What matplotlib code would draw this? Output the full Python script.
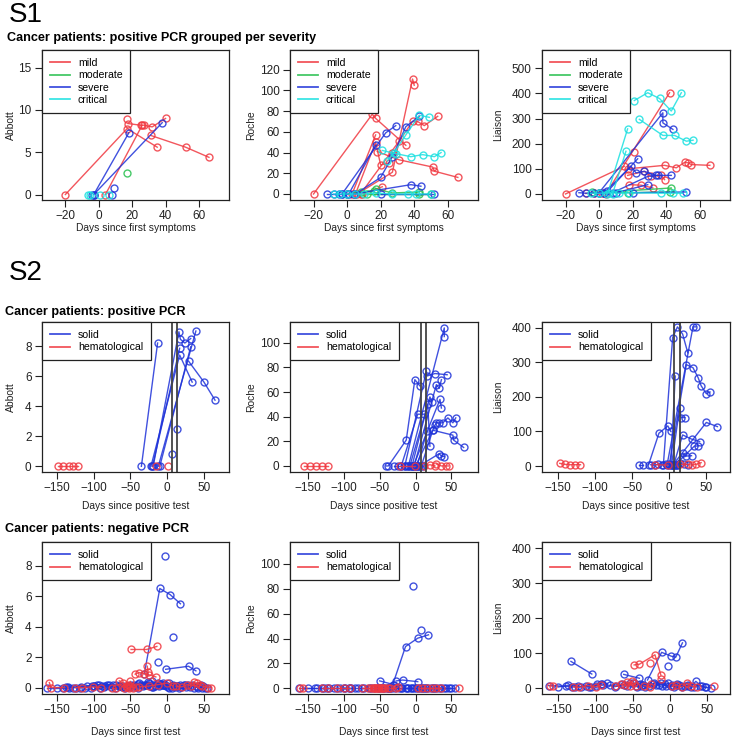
import matplotlib.pyplot as plt
from matplotlib.lines import Line2D

plt.rcParams['font.family'] = ['Liberation Sans', 'DejaVu Sans']

# ---- data: each group is a list of patient trajectories (days, value) ----
SEVERITY = ['mild', 'moderate', 'severe', 'critical']
CANCER = ['solid', 'hematological']

S1_ABBOTT_MILD = [([-20, 17, 35], [0, 7.8, 5.6]), ([4, 26], [0, 8.2]),
                  ([17.5, 25, 27, 32, 40], [8.4, 8.2, 8.2, 8.0, 9.0]),
                  ([17], [8.9]), ([31, 52, 66], [7.0, 5.6, 4.4])]
S1_ABBOTT_MODERATE = [([17], [2.5])]
S1_ABBOTT_SEVERE = [([-3, 18], [0, 7.3]), ([-3, 38], [0, 8.5]), ([-4], [0]),
                    ([8], [0]), ([9], [0.8])]
S1_ABBOTT_CRITICAL = [([-6.5, -5.5], [0, 0]), ([0.5], [0]), ([6], [0])]

S1_ROCHE_MILD = [([-20, 15, 17, 35], [0, 77, 73, 47]), ([3, 17], [0, 57]),
                 ([5, 17, 20, 25, 27], [0, 50, 28, 30, 40]),
                 ([18, 31, 51, 52, 66], [41, 33, 26, 22, 16]),
                 ([6, 27, 39, 40], [0, 21, 111, 105]),
                 ([8, 31, 39, 42, 46, 54], [0, 51, 70, 70, 66, 75]),
                 ([9, 21], [0, 7])]
S1_ROCHE_MODERATE = [([0, 8, 16, 17, 27, 43], [0, 2, 3, 5, 1, 2]),
                     ([12, 43, 50], [0, 0, 0])]
S1_ROCHE_SEVERE = [([-12, -8, -5, -3, 0], [0, 0, 0, 0, 0]), ([-3, 23, 29], [0, 59, 66]),
                   ([1, 17], [0, 47]), ([5, 20, 27, 35, 43], [0, 16, 36, 65, 75]),
                   ([4, 38, 44], [0, 9, 7.5]), ([20, 52], [0, 0])]
S1_ROCHE_CRITICAL = [([21, 29, 38, 45, 52, 56], [42, 39, 36, 38, 36, 40]),
                     ([24, 28, 35, 43, 49], [32, 40, 57, 76, 74]),
                     ([-8, -4, 0, 5, 10, 17, 27, 36, 41, 50], [0, 0, 0, 0, 0, 1, 0, 0, 0, 0])]

S1_LIAISON_MILD = [([-20, 15], [0, 110]), ([4, 42], [0, 403]), ([21], [166]),
                   ([17, 39, 46, 51, 53, 55, 66], [100, 114, 104, 126, 124, 117, 114]),
                   ([17, 27, 31, 37, 39], [74, 90, 70, 74, 57]),
                   ([18, 25, 32], [37, 35, 24]), ([-8, -3, 2], [2, 3, 4])]
S1_LIAISON_MODERATE = [([0, 43], [5, 24]), ([-4, 17, 42], [8, 5, 8])]
S1_LIAISON_SEVERE = [([0, 38, 38, 44], [5, 323, 283, 257]), ([-12, -8, -3, 3], [5, 3, 5, 5]),
                     ([3, 19, 22, 27, 34, 43], [5, 110, 84, 90, 74, 74]),
                     ([5, 23], [10, 140]), ([8, 29, 35], [5, 70, 74]),
                     ([10, 29], [5, 37]), ([20, 52], [5, 8])]
S1_LIAISON_CRITICAL = [([21, 29, 36, 43, 49], [372, 403, 380, 330, 403]),
                       ([24, 38, 45, 52, 56], [297, 233, 233, 210, 214]),
                       ([5, 17], [0, 259]), ([8, 16], [0, 170]),
                       ([-5, 0, 6, 12, 18, 37, 44, 50], [3, 3, 5, 3, 5, 3, 3, 3])]

POS_LINES = [7, 14]

S2_POS_ABBOTT_SOLID = [([-35, -13], [0, 8.2]), ([-22, 17, 34], [0, 7.4, 5.6]),
                       ([-19, 16, 18, 24, 32], [0, 8.95, 8.45, 8.2, 8.5]),
                       ([-12, 39], [0, 9.0]), ([-10, 32], [0, 7.95]), ([-20, 17], [0, 7.85]),
                       ([29, 50, 65], [7.0, 5.6, 4.4]), ([7], [0.8]), ([13], [2.5])]
S2_POS_ABBOTT_HEMA = [([-148, -141, -134, -128, -121], [0, 0, 0, 0, 0]), ([-15], [0]), ([0.5], [0])]

S2_POS_ROCHE_SOLID = [([-30, -25, -20, -15, -10, -5, 0, 5, 10], [0, 0, 0, 0, 0, 0, 0, 0, 0]),
                      ([-41, -38, -13, -1, 6], [0, 0, 21, 70, 65]),
                      ([-20, 3, 12], [0, 42, 42]),
                      ([-15, 15, 16, 27, 44], [0, 77, 73, 75, 74]),
                      ([-10, 40, 40], [0, 112, 105]), ([-8, 20, 23], [0, 56, 52]),
                      ([-5, 17, 20], [0, 50, 16]), ([-3, 34, 36], [0, 54, 47]),
                      ([-2, 29, 33, 36], [0, 66, 63, 70]),
                      ([0, 24, 27, 29, 33, 38, 45, 52, 56], [0, 29, 33, 35, 35, 35, 39, 35, 39]),
                      ([2, 16], [0, 28]), ([5, 33, 36, 40], [0, 10, 8, 7.6]),
                      ([8, 24, 52, 53, 67], [0, 29, 25, 21, 15])]
S2_POS_ROCHE_HEMA = [([-155, -147, -139, -130, -122], [0, 0, 0, 0, 0]), ([-22, -1], [0, 0]),
                     ([12, 20, 27], [0, 1, 0]), ([29, 36, 42, 46], [1.6, 0, 0, 0])]

S2_POS_LIAISON_SOLID = [([-41, -36], [4, 4]),
                        ([-25, -20, -15, -10, -5, 0, 5, 10, 15, 20, 25], [4, 3, 5, 4, 6, 5, 3, 4, 8, 5, 4]),
                        ([-28, -14, -2, 2], [4, 95, 116, 100]),
                        ([-8, 4.5, 11, 18, 25], [4, 371, 402, 381, 327]),
                        ([-3, 32, 36], [4, 402, 402]),
                        ([0, 23, 32, 39, 43, 50, 55], [4, 293, 284, 255, 232, 209, 214]),
                        ([2, 8], [4, 260]), ([3, 14, 16, 21], [4, 168, 140, 140]),
                        ([5, 50, 65], [4, 126, 114]), ([6, 18, 30, 41], [4, 90, 78, 71]),
                        ([8, 34, 39], [4, 58, 58]), ([10, 18, 23, 30], [4, 37, 29, 30])]
S2_POS_LIAISON_HEMA = [([-148, -141, -134, -127, -120], [8, 5, 4, 4, 4]), ([-20, -2], [4, 3]),
                       ([14, 25, 30, 36, 43], [5, 5, 3, 5, 10])]

S2_NEG_ABBOTT_SOLID = [([-163, -141, -133], [0, 0, 0]),
                       ([-128, -117, -104, -95, -84], [0, 0.05, 0, 0.2, 0.1]),
                       ([-150, -137, -124, -109, -93], [0, 0.05, 0, 0.1, 0.2]),
                       ([-135, -119, -102, -86, -69, -55], [0.05, 0, 0.1, 0.05, 0.15, 0.1]),
                       ([-112, -99, -76, -57], [0, 0.1, 0.05, 0]),
                       ([-100, -91, -74, -62, -53, -39, -23], [0.1, 0, 0.2, 0.05, 0.1, 0.25, 0.1]),
                       ([-88, -79, -71, -60, -52, -45], [0.1, 0.2, 0, 0.1, 0.05, 0.15]),
                       ([-82, -64, -47, -35, -26, -16, -7, 2, 11], [0.2, 0.1, 0.05, 0.2, 0.35, 0.1, 0.15, 0.3, 0.05]),
                       ([-66, -49, -38, -29, -21, -13, -4], [0.1, 0.2, 0.3, 0.2, 0.4, 0.3, 0.2]),
                       ([-42, -31, -24, -17, -9, -1, 8, 15], [0.1, 0.2, 0.3, 0.15, 0.25, 0.1, 0.2, 0.1]),
                       ([-40, -33, -27, -19, -12, -5, 3, 10, 17, 25, 34, 42, 49], [0, 0.1, 0.2, 0.05, 0.15, 0.3, 0, 0.1, 0.2, 0.05, 0.15, 0, 0.1]),
                       ([-20, -11, -3, 6, 14, 23, 31, 40, 47], [0.05, 0.1, 0.2, 0, 0.1, 0.15, 0.05, 0.1, 0]),
                       ([-6, 1, 9, 16, 24, 33, 41, 46, 54], [0.2, 0.05, 0.1, 0, 0.2, 0.1, 0.05, 0.15, 0]),
                       ([5, 19, 28, 37, 44, 52], [0.1, 0.05, 0.2, 0, 0.1, 0]),
                       ([-31, -10, 4, 18], [0.9, 6.5, 6.1, 5.5]), ([-3.6], [8.6]), ([8], [3.3]),
                       ([-13], [1.7]), ([-2, 29, 39], [1.2, 1.4, 1.1])]
S2_NEG_ABBOTT_HEMA = [([-160, -158, -140], [0.33, 0, 0]), ([-125, -115, -101, -90], [0, 0, 0.05, 0]),
                      ([-75, -70], [0, 0]), ([-65, -60, -56, -53, -50], [0.44, 0.3, 0.1, 0.2, 0.4]),
                      ([-58, -55, -52, -49, -46, -43], [0, 0.05, 0, 0.1, 0, 0.05]),
                      ([-38, -25, -12, 0, 8], [0.05, 0.1, 0.2, 0.3, 0.1]),
                      ([12, 20, 27, 33, 40, 45], [0.1, 0.05, 0.2, 0.1, 0.3, 0.2]),
                      ([36, 48, 55, 60], [0.35, 0.1, 0, 0]),
                      ([-49, -28, -14], [2.5, 2.5, 2.7]), ([-27, -26], [1.4, 1.0]),
                      ([-43.5, -38, -31, -24.5, -15.4], [0.88, 0.99, 0.92, 0.84, 0.7])]

S2_NEG_ROCHE_SOLID = [([-163, -140, -131, -127], [0, 0, 0, 0]),
                      ([-150, -137, -124, -109, -93], [0, 0, 0, 0, 0]),
                      ([-120, -113, -106, -98, -90, -84], [0, 0, 0, 0, 0, 0]),
                      ([-100, -91, -74, -62, -53, -39, -23], [0, 0, 0, 0, 0, 0, 0]),
                      ([-80, -72, -65, -58, -50, -44, -37], [0, 0, 0, 0, 0, 0, 0]),
                      ([-45, -36, -28, -21, -14, -7, 1, 9], [0, 0, 0, 0, 0, 0, 0, 0]),
                      ([-40, -33, -19, -12, -5, 3, 10, 17, 25], [0, 0, 0, 0, 0, 0, 0, 0, 0]),
                      ([-10, -2, 6, 13, 21, 28, 35, 43, 49], [0, 0, 0, 0, 0, 0, 0, 0, 0]),
                      ([15, 24, 32, 40, 47, 55], [0, 0, 0, 0, 0, 0]),
                      ([-32, -14, 3, 18], [2.7, 33.6, 40.3, 43]), ([-3], [82]), ([8], [47]),
                      ([-50, -30], [6, 3]), ([-27, -18, 3], [6, 6.7, 5.4])]
S2_NEG_ROCHE_HEMA = [([-161, -157], [0, 0]), ([-130, -122, -110, -100, -92], [0, 0, 0, 0, 0]),
                     ([-74, -66, -60, -57, -54, -51, -48, -45], [0, 0, 0, 0, 0, 0, 0, 0]),
                     ([-62, -56, -52, -47, -42, -38], [0, 0, 0, 0, 0, 0]),
                     ([-35, -27, -25], [0, 0, 1]), ([3, 9, 16, 23, 29, 36], [0, 0, 0, 0, 0, 0]),
                     ([60], [0])]

S2_NEG_LIAISON_SOLID = [([-163, -140, -131, -127], [8, 6, 4, 5]),
                        ([-150, -137, -124, -109, -93], [4, 9, 6, 5, 13]),
                        ([-120, -113, -106, -98, -90, -84], [5, 8, 3, 12, 9, 14]),
                        ([-100, -91, -74, -62, -53, -39, -23], [7, 13, 5, 11, 16, 8, 12]),
                        ([-80, -72, -65, -58, -50, -44, -37], [10, 6, 12, 8, 14, 5, 9]),
                        ([-45, -36, -28, -21, -14, -7, 1, 9], [6, 11, 8, 14, 10, 12, 6, 9]),
                        ([-40, -33, -19, -12, -5, 3, 10, 17, 25], [12, 5, 9, 16, 7, 11, 13, 4, 8]),
                        ([-10, -2, 6, 13, 21, 28, 35, 43, 49], [8, 14, 5, 10, 7, 4, 20, 6, 3]),
                        ([15, 24, 32, 40, 47, 55], [6, 9, 4, 8, 3, 2]),
                        ([-133, -105], [77, 41]), ([-62, -41], [40, 29]),
                        ([-30, -11, 2, 8, 17], [24, 103, 92, 89, 130]), ([-3], [65])]
S2_NEG_LIAISON_HEMA = [([-161, -157], [8, 6]), ([-130, -122, -110, -100, -92], [5, 3, 8, 4, 10]),
                       ([-74, -66, -60, -57, -54, -51, -48, -45], [6, 12, 9, 18, 8, 20, 14, 7]),
                       ([-35, -27, -25], [8, 5, 12]), ([3, 9, 16, 23, 29, 36], [6, 10, 4, 15, 7, 5]),
                       ([60], [6]), ([-48, -41, -20, -12], [67, 69, 96, 38]), ([-27], [72]),
                       ([-12], [28])]

COLORS = {'mild': (0.94, 0.22, 0.25, 0.85), 'moderate': (0.15, 0.75, 0.3, 0.85),
          'severe': (0.12, 0.2, 0.85, 0.85), 'critical': (0.1, 0.88, 0.88, 0.85),
          'solid': (0.12, 0.2, 0.85, 0.85), 'hematological': (0.94, 0.22, 0.25, 0.85)}

W, H = 733, 740
fig = plt.figure(figsize=(W / 100, H / 100), dpi=100)


def px_axes(x0, y0, x1, y1):
    return fig.add_axes([x0 / W, 1 - y1 / H, (x1 - x0) / W, (y1 - y0) / H])


def panel(box, groups, names, xlim, ylim, xticks, yticks, ylab, ylab_x, xlab, xlab_off,
          vlines=None):
    ax = px_axes(*box)
    for name, trajs in zip(names, groups):
        for xs, ys in trajs:
            ax.plot(xs, ys, '-o', color=COLORS[name], lw=1, ms=5, mfc='none', mew=1)
    if vlines:
        for v in vlines:
            ax.axvline(v, color='#444444', lw=1.3)
    ax.set_xlim(xlim)
    ax.set_ylim(ylim)
    ax.set_xticks(xticks)
    ax.set_yticks(yticks)
    ax.tick_params(direction='out', length=5, width=0.8, labelsize=8.5, pad=2.5,
                   colors='#222222')
    for s in ax.spines.values():
        s.set_linewidth(0.9)
        s.set_color('#222222')
    handles = [Line2D([0], [0], color=COLORS[n], lw=1.3) for n in names]
    leg = ax.legend(handles, names, loc='upper left', bbox_to_anchor=(0, 1),
                    borderaxespad=0, fancybox=False, edgecolor='#222222', framealpha=1,
                    fontsize=7.6, handlelength=1.9, handletextpad=0.75,
                    labelspacing=0.22, borderpad=0.75)
    leg.get_frame().set_linewidth(0.9)
    # axis titles placed at measured pixel offsets
    ax.text((ylab_x - box[0]) / (box[2] - box[0]), 0.5, ylab, transform=ax.transAxes,
            rotation=90, ha='center', va='center', fontsize=7.4, color='#222222')
    ax.text(0.5, -xlab_off / (box[3] - box[1]), xlab, transform=ax.transAxes,
            ha='center', va='center', fontsize=7.4, color='#222222')
    return ax


COLS = [(42, 229), (290, 478), (542, 730)]
YLAB_X = [11, 251, 498]

# S1 row
r1 = (50, 200)
x1 = [-20, 0, 20, 40, 60]
panel((COLS[0][0], r1[0], COLS[0][1], r1[1]),
      [S1_ABBOTT_MILD, S1_ABBOTT_MODERATE, S1_ABBOTT_SEVERE, S1_ABBOTT_CRITICAL],
      SEVERITY, (-34, 78), (-0.65, 17.1), x1, [0, 5, 10, 15], 'Abbott', YLAB_X[0],
      'Days since first symptoms', 28)
panel((COLS[1][0], r1[0], COLS[1][1], r1[1]),
      [S1_ROCHE_MILD, S1_ROCHE_MODERATE, S1_ROCHE_SEVERE, S1_ROCHE_CRITICAL],
      SEVERITY, (-34, 78), (-5.8, 139), x1, [0, 20, 40, 60, 80, 100, 120], 'Roche',
      YLAB_X[1], 'Days since first symptoms', 28)
panel((COLS[2][0], r1[0], COLS[2][1], r1[1]),
      [S1_LIAISON_MILD, S1_LIAISON_MODERATE, S1_LIAISON_SEVERE, S1_LIAISON_CRITICAL],
      SEVERITY, (-34, 78), (-24, 573), x1, [0, 100, 200, 300, 400, 500], 'Liaison',
      YLAB_X[2], 'Days since first symptoms', 28)

# S2 positive PCR row
r2 = (322, 472)
x2 = [-150, -100, -50, 0, 50]
panel((COLS[0][0], r2[0], COLS[0][1], r2[1]),
      [S2_POS_ABBOTT_SOLID, S2_POS_ABBOTT_HEMA], CANCER, (-170, 84), (-0.38, 9.6),
      x2, [0, 2, 4, 6, 8], 'Abbott', YLAB_X[0], 'Days since positive test', 34, POS_LINES)
panel((COLS[1][0], r2[0], COLS[1][1], r2[1]),
      [S2_POS_ROCHE_SOLID, S2_POS_ROCHE_HEMA], CANCER, (-175, 87), (-4.9, 116.8),
      x2, [0, 20, 40, 60, 80, 100], 'Roche', YLAB_X[1], 'Days since positive test', 34,
      POS_LINES)
panel((COLS[2][0], r2[0], COLS[2][1], r2[1]),
      [S2_POS_LIAISON_SOLID, S2_POS_LIAISON_HEMA], CANCER, (-172, 82), (-17, 416),
      x2, [0, 100, 200, 300, 400], 'Liaison', YLAB_X[2], 'Days since positive test', 34,
      POS_LINES)

# S2 negative PCR row
r3 = (542, 694)
panel((COLS[0][0], r3[0], COLS[0][1], r3[1]),
      [S2_NEG_ABBOTT_SOLID, S2_NEG_ABBOTT_HEMA], CANCER, (-170, 84), (-0.42, 9.55),
      x2, [0, 2, 4, 6, 8], 'Abbott', YLAB_X[0], 'Days since first test', 38)
panel((COLS[1][0], r3[0], COLS[1][1], r3[1]),
      [S2_NEG_ROCHE_SOLID, S2_NEG_ROCHE_HEMA], CANCER, (-175, 87), (-4.5, 117.5),
      x2, [0, 20, 40, 60, 80, 100], 'Roche', YLAB_X[1], 'Days since first test', 38)
panel((COLS[2][0], r3[0], COLS[2][1], r3[1]),
      [S2_NEG_LIAISON_SOLID, S2_NEG_LIAISON_HEMA], CANCER, (-172, 81), (-16, 418),
      x2, [0, 100, 200, 300, 400], 'Liaison', YLAB_X[2], 'Days since first test', 38)

# headings
fig.text(9 / W, 1 - 15 / H, 'S1', fontsize=20, va='center', ha='left')
fig.text(9 / W, 1 - 273 / H, 'S2', fontsize=20, va='center', ha='left')
fig.text(7 / W, 1 - 38.5 / H, 'Cancer patients: positive PCR grouped per severity',
         fontsize=9.1, fontweight='bold', va='center', ha='left')
fig.text(5 / W, 1 - 311.5 / H, 'Cancer patients: positive PCR',
         fontsize=9.1, fontweight='bold', va='center', ha='left')
fig.text(5 / W, 1 - 529 / H, 'Cancer patients: negative PCR',
         fontsize=9.1, fontweight='bold', va='center', ha='left')

fig.savefig('out.png', dpi=100)
